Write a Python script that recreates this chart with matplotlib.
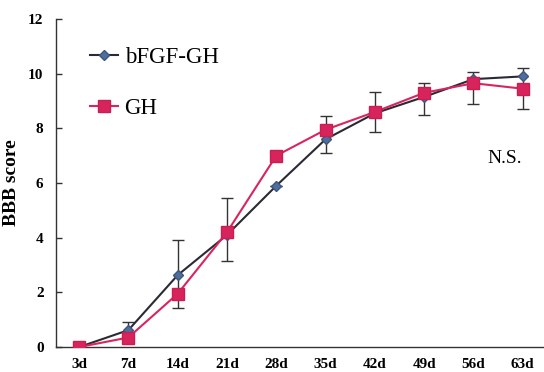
import matplotlib
matplotlib.use("Agg")
import matplotlib.pyplot as plt
import numpy as np

days = ["3d", "7d", "14d", "21d", "28d", "35d", "42d", "49d", "56d", "63d"]
bfgf_gh = [0.0, 0.62, 2.63, 4.1, 5.9, 7.6, 8.55, 9.15, 9.8, 9.9]
gh = [0.0, 0.35, 1.95, 4.2, 7.0, 7.95, 8.6, 9.3, 9.65, 9.45]
err_low = [0.0, 0.35, 1.43, 3.15, 5.9, 7.1, 7.87, 8.5, 8.9, 8.7]
err_high = [0.0, 0.91, 3.9, 5.45, 5.9, 8.45, 9.33, 9.65, 10.06, 10.2]
y_ticks = [0, 2, 4, 6, 8, 10, 12]

plt.rcParams['font.family'] = ['Liberation Serif', 'DejaVu Serif']

fig = plt.figure(figsize=(5.44, 3.72), dpi=100)
ax = fig.add_axes([0.103, 0.067, 0.897, 0.882])

x = np.arange(len(days))
center = np.array(bfgf_gh)
yerr = [center - np.array(err_low), np.array(err_high) - center]
ax.errorbar(x, center, yerr=yerr, fmt='none', ecolor='#333333', elinewidth=1.0,
            capsize=4, capthick=1.0, zorder=2)

ax.plot(x, bfgf_gh, color='#2a2a35', lw=1.5, marker='D', markersize=5.5,
        markerfacecolor='#4f6e9c', markeredgecolor='#3d5680', label='bFGF-GH', zorder=3)
ax.plot(x, gh, color='#d9245e', lw=1.5, marker='s', markersize=8,
        markerfacecolor='#d8245c', markeredgecolor='#c81e52', label='GH', zorder=4)

ax.set_xlim(-0.467, 9.43)
ax.set_ylim(0, 12)
ax.set_xticks(x)
ax.set_xticklabels(days)
ax.set_yticks(y_ticks)
ax.tick_params(axis='x', length=0, pad=8, labelsize=11)
ax.tick_params(axis='y', direction='in', length=4, width=1, labelsize=11, pad=9, color='#333333')
for lab in ax.get_xticklabels() + ax.get_yticklabels():
    lab.set_fontweight('bold')

for s in ['top', 'right']:
    ax.spines[s].set_visible(False)
for s in ['left', 'bottom']:
    ax.spines[s].set_color('#333333')
    ax.spines[s].set_linewidth(1.0)

ax.set_ylabel('BBB score', fontsize=14, fontweight='bold', labelpad=6)

ax.text(8.64, 6.88, 'N.S.', fontsize=14, ha='center', va='center')

ax.legend(loc='upper left', bbox_to_anchor=(0.07, 0.915), frameon=False,
          fontsize=16.5, handlelength=1.2, handletextpad=0.3, labelspacing=1.3,
          borderpad=0, borderaxespad=0)

fig.savefig('out.png', dpi=100)
